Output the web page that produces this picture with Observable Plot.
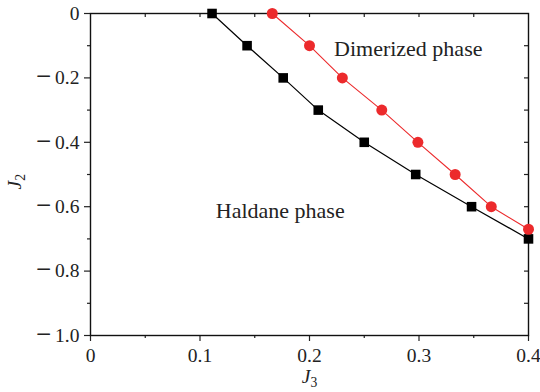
<!DOCTYPE html>
<html>
<head>
<meta charset="utf-8">
<script src="https://cdn.jsdelivr.net/npm/d3@7"></script>
<script src="https://cdn.jsdelivr.net/npm/@observablehq/plot@0.6"></script>
<style>
  html, body { margin: 0; padding: 0; background: #fff; }
  svg { display: block; }
  #chart svg, #chart svg text { font-family: "Liberation Serif", "Times New Roman", serif !important; }
</style>
</head>
<body>
<div id="chart"></div>
<script>
// Haldane / dimerized phase boundary (black squares)
const haldaneJ3 = [0.111, 0.143, 0.176, 0.208, 0.250, 0.297, 0.348, 0.400];
const haldaneJ2 = [0.0, -0.1, -0.2, -0.3, -0.4, -0.5, -0.6, -0.70];
// Dimerized boundary (red circles)
const dimerJ3 = [0.166, 0.200, 0.230, 0.266, 0.299, 0.333, 0.366, 0.400];
const dimerJ2 = [0.0, -0.1, -0.2, -0.3, -0.4, -0.5, -0.6, -0.67];

const xMajor = [0, 0.1, 0.2, 0.3, 0.4];
const xMinor = [0.05, 0.15, 0.25, 0.35];
const yMajor = [0, -0.2, -0.4, -0.6, -0.8, -1.0];
const yMinor = [-0.1, -0.3, -0.5, -0.7, -0.9];
const topTicks = [0.05, 0.1, 0.15, 0.2, 0.25, 0.3, 0.35];
const rightTicks = [-0.1, -0.2, -0.3, -0.4, -0.5, -0.6, -0.7, -0.8, -0.9];

const black = haldaneJ3.map((x, i) => ({x, y: haldaneJ2[i]}));
const red = dimerJ3.map((x, i) => ({x, y: dimerJ2[i]}));

const W = 540, H = 392, mL = 90, mR = 12, mT = 13, mB = 57;
const fw = W - mL - mR, fh = H - mT - mB;
const FONT = "Liberation Serif";
const FS = 19.5;
const FA = 22;
const ink = "#222";
const redColor = "#ec2a2c";

const yfmt = d => d === 0 ? "0" : "\u2212 " + Math.abs(d).toFixed(1);
const xfmt = d => d === 0 ? "0" : d.toFixed(1);

const chart = Plot.plot({
  width: W, height: H,
  marginLeft: mL, marginRight: mR, marginTop: mT, marginBottom: mB,
  style: {fontFamily: FONT, fontSize: FS + "px", color: ink, background: "#fff"},
  x: {domain: [0, 0.4]},
  y: {domain: [-1, 0]},
  marks: [
    Plot.axisX({ticks: xMajor, tickSize: 6, tickPadding: 7, tickFormat: xfmt, fontSize: FS, stroke: ink, strokeWidth: 1.2, label: null}),
    Plot.axisX({ticks: xMinor, tickSize: 3, tickFormat: () => "", stroke: ink, strokeWidth: 1.2, label: null}),
    Plot.axisY({ticks: yMajor, tickSize: 6, tickPadding: 5, tickFormat: yfmt, fontSize: FS, stroke: ink, strokeWidth: 1.2, label: null}),
    Plot.axisY({ticks: yMinor, tickSize: 3, tickFormat: () => "", stroke: ink, strokeWidth: 1.2, label: null}),
    Plot.ruleX(topTicks, {x: d => d, insetBottom: fh - 4, stroke: ink, strokeWidth: 1.2}),
    Plot.ruleY(rightTicks, {y: d => d, insetLeft: fw - 4, stroke: ink, strokeWidth: 1.2}),
    Plot.frame({stroke: "#111", strokeWidth: 1.4}),
    Plot.line(black, {x: "x", y: "y", stroke: "#000", strokeWidth: 1.2}),
    Plot.dot(black, {x: "x", y: "y", symbol: "square", r: 5.4, fill: "#000", stroke: "none"}),
    Plot.line(red, {x: "x", y: "y", stroke: redColor, strokeWidth: 1.1}),
    Plot.dot(red, {x: "x", y: "y", symbol: "circle", r: 5.5, fill: redColor, stroke: "none"}),
    Plot.text(["Dimerized phase"], {x: 0.2224, y: -0.109, textAnchor: "start", fontSize: FA, fill: ink}),
    Plot.text(["Haldane phase"], {x: 0.1144, y: -0.612, textAnchor: "start", fontSize: FA, fill: ink}),
    // axis titles
    Plot.text(["J2"], {frameAnchor: "left", dx: -76, dy: 15, rotate: -90, fontSize: FS, fill: ink}),
    Plot.text(["J3"], {frameAnchor: "bottom", dy: 47, fontSize: FS, fill: ink})
  ]
});

d3.select(chart).selectAll("text").each(function() {
  const t = d3.select(this);
  const s = t.text();
  // Axis titles: italic J with subscript digit
  if (s === "J2" || s === "J3") {
    t.text("");
    t.append("tspan").attr("font-style", "italic").text("J");
    t.append("tspan").attr("font-size", "70%").attr("dy", "0.3em").text(s[1]);
  } else if (s.startsWith("\u2212 ")) {
    // wider math minus, as in the original's tick labels
    t.text("");
    t.append("tspan").attr("font-size", "27px").attr("dy", "1").text("\u2212");
    t.append("tspan").attr("dy", "-1").text("\u2009" + s.slice(2));
  }
});

document.getElementById("chart").appendChild(chart);
</script>
</body>
</html>
